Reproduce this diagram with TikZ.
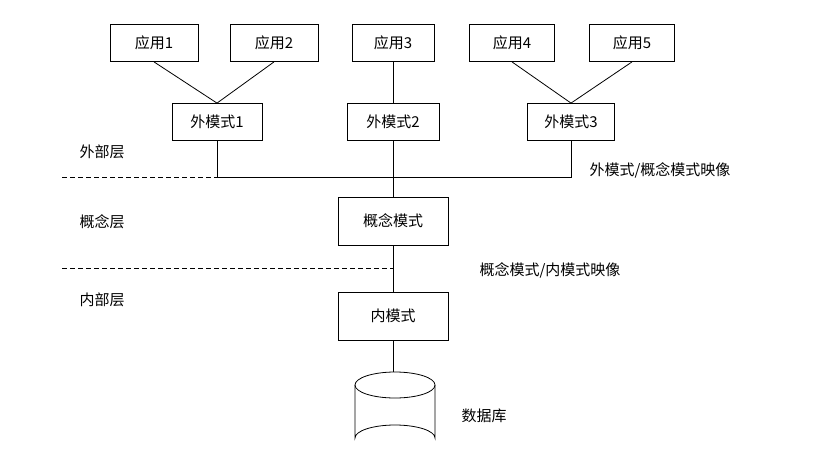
\documentclass[tikz,border=0pt]{standalone}
\usepackage{fontspec}
\setmainfont{Noto Sans CJK SC}
\begin{document}
\begin{tikzpicture}[x=1pt,y=-1pt,
  box/.style={draw,line width=0.8pt,minimum width=88pt,minimum height=37pt,inner sep=1pt,font=\fontsize{15}{17}\selectfont},
  bigbox/.style={box,minimum width=110pt,minimum height=48pt},
  lbl/.style={font=\fontsize{15}{17}\selectfont},
  ln/.style={line width=0.8pt},
  dl/.style={line width=0.8pt,dash pattern=on 5pt off 3pt}]
\useasboundingbox (0,0) rectangle (827,475);
\node[box] (a1) at (154,43) {应用1};
\node[box] (a2) at (274,43) {应用2};
\node[box,minimum width=82pt] (a3) at (393,43) {应用3};
\node[box,minimum width=85pt] (a4) at (512,43) {应用4};
\node[box,minimum width=85pt] (a5) at (632,43) {应用5};
\node[box,minimum width=90pt] (e1) at (217,122) {外模式1};
\node[box,minimum width=92pt] (e2) at (393,122) {外模式2};
\node[box,minimum width=87pt] (e3) at (571,122) {外模式3};
\node[bigbox] (c) at (393,221) {概念模式};
\node[bigbox] (i) at (393,316) {内模式};
\coordinate (db) at (393,372);
\draw[ln] (355,385) arc[start angle=180,end angle=-180,x radius=40,y radius=13];
\draw[ln] (355,385) -- (355,438) arc[start angle=180,end angle=360,x radius=40,y radius=13] -- (435,385);
\draw[ln] (a1.south) -- (e1.north);
\draw[ln] (a2.south) -- (e1.north);
\draw[ln] (a3.south) -- (e2.north);
\draw[ln] (a4.south) -- (e3.north);
\draw[ln] (a5.south) -- (e3.north);
\coordinate (h1) at (217,177);
\coordinate (h3) at (571,177);
\coordinate (dl1) at (62,177);
\coordinate (dl2) at (62,268);
\coordinate (dr2) at (393,268);
\draw[ln] (e1.south) -- (h1) -- (h3) -- (e3.south);
\draw[ln] (e2.south) -- (c.north);
\draw[dl] (dl1) -- (h1);
\draw[dl] (dl2) -- (dr2);
\draw[ln] (c.south) -- (i.north);
\draw[ln] (i.south) -- (db);
\node[lbl,anchor=west] (l1) at (76,152) {外部层};
\node[lbl,anchor=west] (l2) at (76,222) {概念层};
\node[lbl,anchor=west] (l3) at (76,300) {内部层};
\node[lbl,anchor=west] (m1) at (586,170) {外模式/概念模式映像};
\node[lbl,anchor=west] (m2) at (476,270) {概念模式/内模式映像};
\node[lbl,anchor=west] (d) at (458,416) {数据库};
\end{tikzpicture}
\end{document}
